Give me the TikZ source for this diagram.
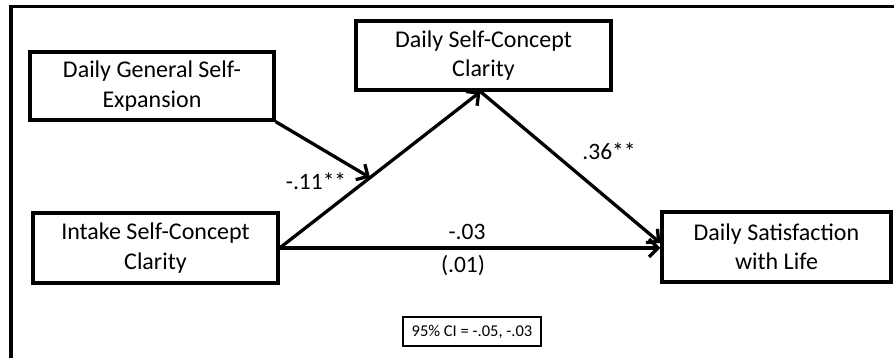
\documentclass[tikz,border=0pt]{standalone}
\usepackage{fontspec}
\setmainfont{Carlito}
\usetikzlibrary{arrows.meta,calc}
\tikzset{
  varbox/.style={draw, line width=3.3pt, align=center, inner sep=0pt,
    font=\fontsize{24}{29.5}\selectfont},
  path/.style={line width=3.3pt, -{Straight Barb[length=9pt,width=18pt,line width=3.3pt]}},
  lbl/.style={font=\fontsize{23.5}{28}\selectfont, inner sep=0pt},
  cibox/.style={draw, line width=1.8pt, inner sep=0pt, font=\fontsize{16.5}{19}\selectfont}
}
\begin{document}
\begin{tikzpicture}[x=1pt,y=-1pt]
\useasboundingbox (0,0) rectangle (894,358);
\fill[white] (0,0) rectangle (894,358);
% frame
\draw[line width=3.3pt] (11,358) -- (11,6.5) -- (894,6.5);
% boxes
\node[varbox, minimum width=244pt, minimum height=68pt] (gse) at (152,86) {Daily General Self-\\Expansion};
\node[varbox, minimum width=255pt, minimum height=69pt] (dscc) at (483.5,55.5) {Daily Self-Concept\\Clarity};
\node[varbox, minimum width=245pt, minimum height=70pt] (iscc) at (155.5,248) {Intake Self-Concept\\Clarity};
\node[varbox, minimum width=229pt, minimum height=70pt] (dsl) at (776.5,247) {Daily Satisfaction\\with Life};
\node[cibox, minimum width=138pt, minimum height=29pt] (ci) at (472,331.5) {95\% CI = -.05, -.03};
% paths
\coordinate (dsb) at ($(dscc.south)+(-3,0)$);
\coordinate (ie) at ($(iscc.east)+(0,0)$);
\coordinate (m) at ($(ie)!0.45!(dsb)$);
\draw[path] (ie) -- (dsb);
\draw[path] (ie) -- (ie -| dsl.west);
\draw[path] (dsb) -- ($(dsl.west)+(0,-4)$);
\draw[path] (gse.south east) -- (m);
% labels
\node[lbl] (l1) at (316,181) {-.11**};
\node[lbl] (l2) at (609,151) {.36**};
\node[lbl] (l3) at (467,232) {-.03};
\node[lbl] (l4) at (463,266) {(.01)};
\end{tikzpicture}
\end{document}
